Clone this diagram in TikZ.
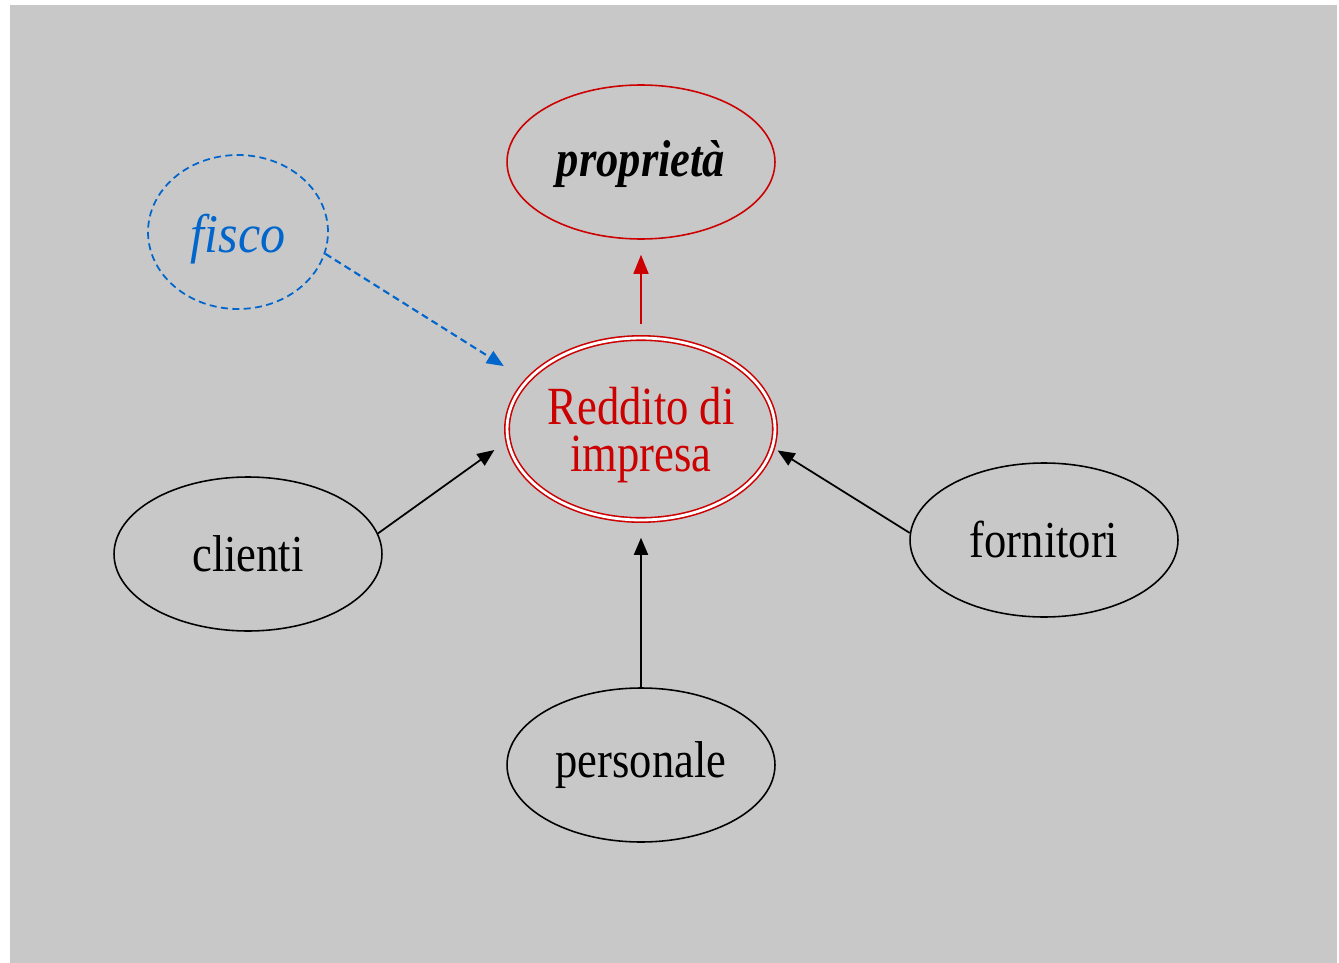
\documentclass[tikz,border=0pt]{standalone}
\usepackage{fontspec}
\setmainfont{Liberation Serif}
\newfontfamily\narrowserif[FakeStretch=0.86]{Liberation Serif}
\newfontfamily\reddserif[FakeStretch=0.83]{Liberation Serif}
\newfontfamily\fiscoserif[FakeStretch=0.92]{Liberation Serif}
\usetikzlibrary{shapes.geometric,arrows.meta}
\definecolor{bgray}{RGB}{200,200,200}
\definecolor{dred}{RGB}{204,0,0}
\definecolor{dblue}{RGB}{0,102,204}

\begin{document}
\begin{tikzpicture}[x=0.02cm,y=-0.02cm,
    >={Triangle[length=0.34cm,width=0.28cm]},
    party/.style={ellipse, draw, line width=0.9pt, inner sep=0pt,
        minimum width=5.36cm, minimum height=3.08cm,
        font=\narrowserif\fontsize{29.5}{30}\selectfont},
    flow/.style={->, line width=1pt}]
\useasboundingbox (0,0) rectangle (1339,963);
\fill[bgray] (10,5) rectangle (1337,963);

% the firm and the parties around it
\node[party, double, draw=dred, double distance=1.6pt, minimum height=3.64cm,
    align=center, text=dred, text height=1.93cm,
    font=\reddserif\fontsize{30.6}{27}\selectfont] (reddito) at (641,429)
    {Reddito di\\impresa};
\node[party, draw=dred, text height=0.82cm,
    font=\narrowserif\bfseries\itshape\fontsize{29.5}{30}\selectfont]
    (proprieta) at (641,162) {proprietà};
\node[party, draw=dblue, dash pattern=on 4pt off 2.5pt, line width=1pt,
    minimum width=3.6cm, text=dblue, text height=1.05cm,
    font=\fiscoserif\itshape\fontsize{31}{32}\selectfont] (fisco) at (238,232) {fisco};
\node[party] (clienti)   at (248,554)  {clienti};
\node[party] (fornitori) at (1044,540) {fornitori};
\node[party] (personale) at (641,765)  {personale};

% flows towards and from the firm
\draw[flow, dred, line width=0.8pt, >={Triangle[length=0.38cm,width=0.3cm]},
    shorten <=0.26cm, shorten >=0.3cm] (reddito.north) -- (proprieta.south);
\draw[flow, dblue, dash pattern=on 4pt off 2.5pt, line width=1.2pt,
    shorten >=0.54cm] (fisco.-14) -- (reddito.157);
\draw[flow, shorten >=0.32cm] (clienti.9) -- (reddito.185);
\draw[flow, shorten >=0.11cm] (fornitori.177) -- (reddito.-8);
\draw[flow, shorten >=0.34cm] (personale.north) -- (reddito.south);

\end{tikzpicture}
\end{document}
